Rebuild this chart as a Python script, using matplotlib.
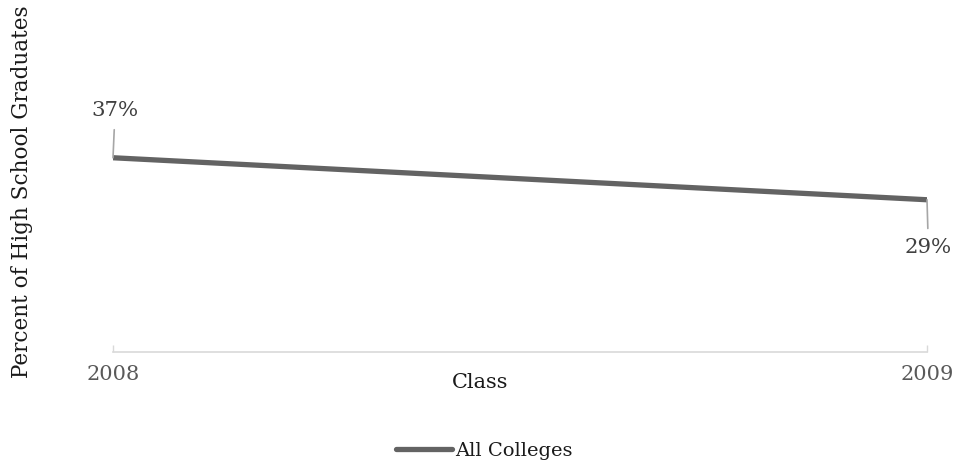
import matplotlib
matplotlib.use("Agg")
import matplotlib.pyplot as plt

# data
years = ["2008", "2009"]
pct = [37, 29]
series_name = "All Colleges"

plt.rcParams['font.family'] = ['DejaVu Serif']

fig = plt.figure(figsize=(9.56, 4.67), dpi=100)
ax = fig.add_axes([113/956, 115/467, 814/956, 315/467])

x = list(range(len(years)))
line, = ax.plot(x, pct, color="#636363", lw=3.8, solid_capstyle="round",
                label=series_name)

ax.set_xlim(0, 1)
ax.set_ylim(0, 60)
ax.set_yticks([])
ax.set_xticks(x)
ax.set_xticklabels(years, fontsize=15, color="#595959")
ax.tick_params(axis="x", direction="in", length=5, width=1, color="#d9d9d9", pad=9)
for s in ["top", "right", "left"]:
    ax.spines[s].set_visible(False)
ax.spines["bottom"].set_color("#d9d9d9")
ax.spines["bottom"].set_linewidth(1.2)

# axis titles
fig.text(480/956, 1 - 383/467, "Class", fontsize=15, color="#1a1a1a",
         ha="center", va="center")
fig.text(22/956, 1 - 192/467, "Percent of High School Graduates", rotation=90,
         fontsize=15.5, color="#1a1a1a", ha="center", va="center")

# data labels with leader lines
offsets = [(1.5, 34), (1, -34.5)]
for xi, yi, (dx, dy) in zip(x, pct, offsets):
    ax.annotate(f"{yi}%", xy=(xi, yi), xytext=(dx, dy), textcoords="offset points",
                fontsize=15.3, color="#404040", ha="center", va="center",
                arrowprops=dict(arrowstyle="-", color="#a6a6a6", lw=1.2,
                                shrinkA=5, shrinkB=0))

fig.legend(handles=[line], loc="center", bbox_to_anchor=(484/956, 1 - 451/467),
           frameon=False, fontsize=14, handlelength=2.9, handletextpad=0.15,
           labelcolor="#1a1a1a", borderpad=0)

fig.savefig("out.png", dpi=100)
